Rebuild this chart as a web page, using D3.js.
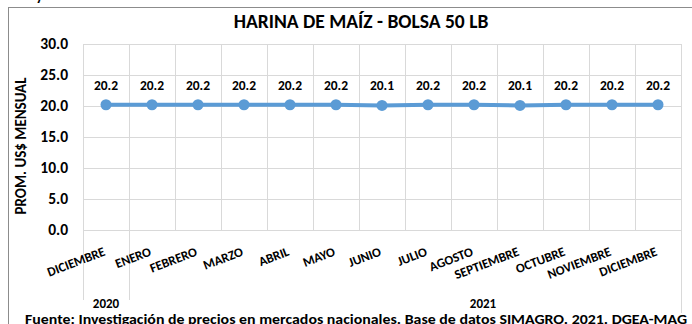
<!DOCTYPE html>
<html>
<head>
<meta charset="utf-8">
<script src="https://cdn.jsdelivr.net/npm/d3@7"></script>
<style>
  html, body { margin: 0; padding: 0; background: #fff; }
  svg { display: block; font-family: Carlito, Lato, "Open Sans", sans-serif; font-weight: bold; }
</style>
</head>
<body>
<svg id="chart" width="692" height="324"></svg>
<script>
// Monthly average price, maize flour 50 lb bag (US$)
const months = ["DICIEMBRE", "ENERO", "FEBRERO", "MARZO", "ABRIL", "MAYO", "JUNIO",
                "JULIO", "AGOSTO", "SEPTIEMBRE", "OCTUBRE", "NOVIEMBRE", "DICIEMBRE"];
const years = ["2020", "2021"];
const prices = [20.2, 20.2, 20.2, 20.2, 20.2, 20.2, 20.1, 20.2, 20.2, 20.1, 20.2, 20.2, 20.2];
const yTicks = [0, 5, 10, 15, 20, 25, 30];

const title = "HARINA DE MAÍZ - BOLSA 50 LB";
const yTitle = "PROM. US$ MENSUAL";
const source = "Fuente: Investigación de precios en mercados nacionales. Base de datos SIMAGRO. 2021. DGEA-MAG";

const svg = d3.select("#chart");
const plot = { left: 83, right: 681, top: 44, bottom: 230 };

const x = d3.scaleBand().domain(d3.range(months.length)).range([plot.left, plot.right]).padding(0);
const y = d3.scaleLinear().domain([0, 30]).range([plot.bottom, plot.top]);
const cx = i => x(i) + x.bandwidth() / 2;
const edge = i => Math.round(plot.left + i * x.bandwidth()) + 0.5;

// tail of the heading line that sits above the chart frame
svg.append("text").attr("x", 36).attr("y", 0).attr("font-size", 15).attr("fill", "#000").text("y");

// chart frame
svg.append("rect").attr("x", 8.5).attr("y", 7.5).attr("width", 700).attr("height", 340)
  .attr("fill", "#fff").attr("stroke", "#8c8c8c").attr("stroke-width", 1);

// title
svg.append("text").attr("x", 361).attr("y", 28).attr("text-anchor", "middle")
  .attr("font-size", 19.5).attr("fill", "#000").text(title);

// horizontal gridlines
svg.append("g").selectAll("line").data(yTicks).join("line")
  .attr("x1", plot.left).attr("x2", plot.right)
  .attr("y1", d => Math.round(y(d)) + 0.5).attr("y2", d => Math.round(y(d)) + 0.5)
  .attr("stroke", "#d9d9d9").attr("stroke-width", 1);

// vertical gridlines at category boundaries
svg.append("g").selectAll("line").data(d3.range(months.length + 1)).join("line")
  .attr("x1", edge).attr("x2", edge)
  .attr("y1", plot.top).attr("y2", plot.bottom)
  .attr("stroke", "#d9d9d9").attr("stroke-width", 1);

// year group separators below the axis
const groupEdges = [0, 1, months.length];
svg.append("g").selectAll("line").data(groupEdges).join("line")
  .attr("x1", edge).attr("x2", edge)
  .attr("y1", plot.bottom).attr("y2", (i, k) => k === 2 ? 313 : 300)
  .attr("stroke", "#d9d9d9").attr("stroke-width", 1);

// y axis tick labels
const yAxis = d3.axisLeft(y).tickValues(yTicks).tickFormat(d3.format(".1f")).tickSize(0).tickPadding(15);
const gy = svg.append("g").attr("transform", `translate(${plot.left},0)`).call(yAxis);
gy.select(".domain").remove();
gy.selectAll("text").attr("font-size", 15.5).attr("fill", "#000")
  .attr("font-family", "Carlito, Lato, sans-serif").attr("font-weight", "bold");

// y axis title
svg.append("text").attr("transform", "translate(26,146) rotate(-90)")
  .attr("text-anchor", "middle").attr("font-size", 15).attr("fill", "#000").text(yTitle);

// x axis month labels
svg.append("g").selectAll("text").data(months).join("text")
  .attr("transform", (d, i) => `translate(${cx(i)},255) rotate(-21)`)
  .attr("text-anchor", "end").attr("font-size", 13).attr("fill", "#000").text(d => d);

// year labels
const yearX = [cx(0), 483];
svg.append("g").selectAll("text").data(years).join("text")
  .attr("x", (d, i) => yearX[i]).attr("y", 307.5).attr("text-anchor", "middle")
  .attr("font-size", 13).attr("fill", "#000").text(d => d);

// price line
const line = d3.line().x((d, i) => cx(i)).y(d => y(d));
svg.append("path").datum(prices).attr("d", line)
  .attr("fill", "none").attr("stroke", "#5b9bd5").attr("stroke-width", 4).attr("stroke-linejoin", "round");

svg.append("g").selectAll("circle").data(prices).join("circle")
  .attr("cx", (d, i) => cx(i)).attr("cy", d => y(d)).attr("r", 5.5).attr("fill", "#5b9bd5");

// value labels
svg.append("g").selectAll("text").data(prices).join("text")
  .attr("x", (d, i) => cx(i)).attr("y", d => y(d) - 15).attr("text-anchor", "middle")
  .attr("font-size", 13.5).attr("fill", "#000").text(d => d3.format(".1f")(d));

// source note
svg.append("text").attr("x", 25).attr("y", 324).attr("font-size", 14.5).attr("fill", "#000")
  .attr("textLength", 662).attr("lengthAdjust", "spacingAndGlyphs").text(source);
</script>
</body>
</html>
